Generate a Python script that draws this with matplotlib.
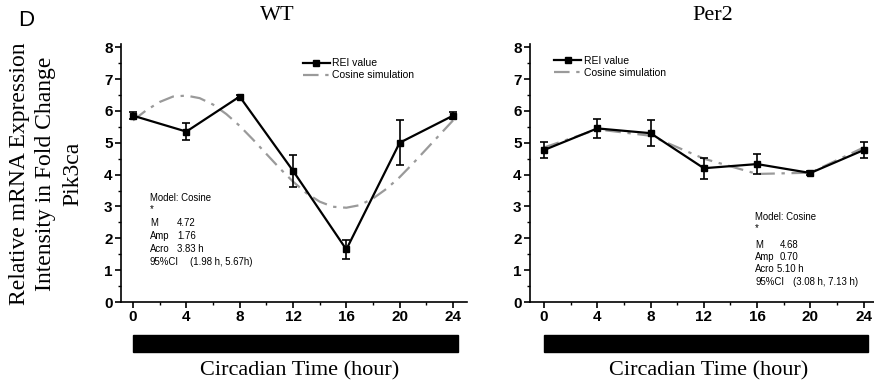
import matplotlib
matplotlib.use("Agg")
import matplotlib.pyplot as plt
import matplotlib.transforms as mtransforms
from matplotlib.lines import Line2D
from matplotlib.patches import Rectangle
from matplotlib.ticker import MultipleLocator

hours = [0, 4, 8, 12, 16, 20, 24]

wt_rei = [5.85, 5.35, 6.45, 4.12, 1.65, 5.0, 5.85]
wt_err = [0.12, 0.26, 0.05, 0.5, 0.31, 0.71, 0.12]
wt_cos_t = list(range(25))
wt_cos = [5.70, 6.02, 6.28, 6.45, 6.48, 6.40, 6.20, 5.90, 5.53, 5.10, 4.65, 4.20,
          3.78, 3.42, 3.15, 2.99, 2.96, 3.04, 3.25, 3.55, 3.92, 4.35, 4.80, 5.25, 5.70]

per2_rei = [4.77, 5.45, 5.30, 4.20, 4.33, 4.05, 4.77]
per2_err = [0.25, 0.30, 0.41, 0.33, 0.32, 0.05, 0.25]
per2_cos = [4.85, 5.42, 5.22, 4.50, 4.02, 4.06, 4.85]

wt_stats = [("Model: Cosine", ""), ("*", ""), ("M", "4.72"), ("Amp", "1.76"),
            ("Acro", "3.83 h"), ("95%CI", "(1.98 h, 5.67h)")]
per2_stats = [("Model: Cosine", ""), ("*", ""), ("M", "4.68"), ("Amp", "0.70"),
              ("Acro", "5.10 h"), ("95%CI", "(3.08 h, 7.13 h)")]

W, H = 874, 389
SERIF = "Liberation Serif"
SANS = "Liberation Sans"
GRAY = "#9a9a9a"
DASHDOT = (0, (7, 3, 1.5, 3))

fig = plt.figure(figsize=(W / 100, H / 100), dpi=100)


def px(x, y):
    return x / W, 1 - y / H


def make_axes(left, right, xmin, xmax):
    ax = fig.add_axes([left / W, 1 - 302 / H, (right - left) / W, 258 / H])
    ax.set_xlim(xmin, xmax)
    ax.set_ylim(0, 8.1)
    for s in ["top", "right"]:
        ax.spines[s].set_visible(False)
    for s in ["left", "bottom"]:
        ax.spines[s].set_linewidth(1.2)
    ax.set_xticks(hours)
    ax.xaxis.set_minor_locator(MultipleLocator(2))
    ax.set_yticks(range(9))
    ax.yaxis.set_minor_locator(MultipleLocator(0.5))
    ax.tick_params(which="major", direction="out", length=4, width=1.2, pad=2,
                   labelsize=11, labelfontfamily=SANS)
    ax.tick_params(which="minor", direction="out", length=2.5, width=1)
    for lab in ax.get_xticklabels() + ax.get_yticklabels():
        lab.set_fontweight("bold")
    return ax


def draw_panel(ax, rei, err, cos_t, cos_v, stats, stat_pos, leg_anchor, bar_end):
    ax.plot(cos_t, cos_v, color=GRAY, lw=1.6, linestyle=DASHDOT, zorder=2)
    ax.errorbar(hours, rei, yerr=err, color="black", lw=1.6, marker="s", ms=5,
                capsize=3, capthick=1.2, elinewidth=1.2, zorder=3)
    handles = [Line2D([], [], color="black", lw=1.6, marker="s", ms=5),
               Line2D([], [], color=GRAY, lw=1.6, linestyle=DASHDOT)]
    ax.legend(handles, ["REI value", "Cosine simulation"], loc="upper left",
              bbox_to_anchor=leg_anchor, frameon=False, borderpad=0,
              handlelength=2.6, handletextpad=0.25, labelspacing=0.2,
              prop={"family": SANS, "size": 7.5})
    # black bar under the axis
    trans = mtransforms.blended_transform_factory(ax.transData, ax.transAxes)
    ax.add_patch(Rectangle((0, -0.195), bar_end, 0.066, transform=trans,
                           color="black", clip_on=False))
    x0, xvals, ys = stat_pos
    for (name, val), xv, y in zip(stats, xvals, ys):
        fig.text(*px(x0, y), name, fontsize=6.9, family=SANS, va="center")
        if val:
            fig.text(*px(xv, y), val, fontsize=6.9, family=SANS, va="center")


ax1 = make_axes(121, 467, -0.9, 25.05)
ax2 = make_axes(530, 877, -1.05, 25.0)

draw_panel(ax1, wt_rei, wt_err, wt_cos_t, wt_cos, wt_stats,
           (150, [0, 0, 177, 177, 177, 190], [198, 209, 223, 236, 249, 262]),
           (0.51, 0.965), 24.35)
draw_panel(ax2, per2_rei, per2_err, hours, per2_cos, per2_stats,
           (755, [0, 0, 780, 780, 777, 793], [217, 228, 245, 257, 269, 282]),
           (0.055, 0.975), 24.3)

fig.text(*px(277, 16), "WT", fontsize=16, family=SERIF, ha="center", va="center")
fig.text(*px(713, 16), "Per2", fontsize=16, family=SERIF, ha="center", va="center")
fig.text(*px(300, 371), "Circadian Time (hour)", fontsize=16, family=SERIF,
         ha="center", va="center")
fig.text(*px(709, 371), "Circadian Time (hour)", fontsize=16, family=SERIF,
         ha="center", va="center")
fig.text(*px(46, 174), "Relative mRNA Expression\nIntensity in Fold Change\nPik3ca",
         fontsize=17, family=SERIF, ha="center", va="center", rotation=90,
         multialignment="center", linespacing=1.35)
fig.text(*px(26, 20), "D", fontsize=16, family=SANS, ha="center", va="center")

fig.savefig("out.png", dpi=100)
